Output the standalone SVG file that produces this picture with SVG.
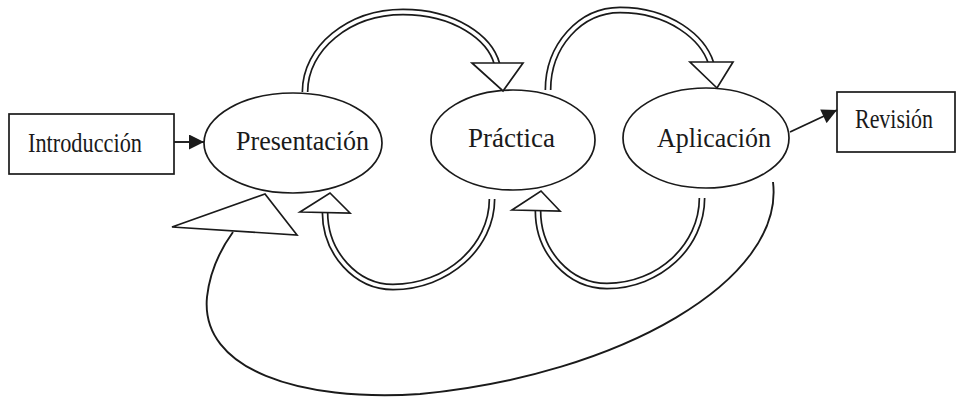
<svg xmlns="http://www.w3.org/2000/svg" width="959" height="399" viewBox="0 0 959 399">
<style>
.box{fill:#fff;stroke:#1a1a1a;stroke-width:1.7}
.node{fill:#fff;stroke:#1a1a1a;stroke-width:1.7}
.lbl{font-family:"Liberation Serif","Times New Roman",serif;font-size:27px;fill:#1a1a1a}
.line{fill:none;stroke:#1a1a1a;stroke-width:1.9}
.dbo{fill:none;stroke:#1a1a1a;stroke-width:7}
.dbi{fill:none;stroke:#fff;stroke-width:3.6}
.hollow{fill:#fff;stroke:#1a1a1a;stroke-width:1.7;stroke-linejoin:miter}
</style>
<defs>
<marker id="solid" viewBox="0 0 10 10" refX="10" refY="5" markerWidth="17" markerHeight="15" markerUnits="userSpaceOnUse" orient="auto">
<path d="M0,0 L10,5 L0,10 Z" fill="#1a1a1a"/>
</marker>
</defs>
<rect width="959" height="399" fill="#fff"/>
<g id="introduccion">
<rect class="box" x="9" y="114" width="165" height="60"/>
<text class="lbl" x="28" y="152" textLength="114" lengthAdjust="spacingAndGlyphs">Introducción</text>
</g>
<g id="presentacion">
<ellipse class="node" cx="293" cy="143" rx="89" ry="50"/>
<text class="lbl" x="236" y="150" textLength="133" lengthAdjust="spacingAndGlyphs">Presentación</text>
</g>
<g id="practica">
<ellipse class="node" cx="513" cy="140" rx="82" ry="50"/>
<text class="lbl" x="468" y="147" textLength="87" lengthAdjust="spacingAndGlyphs">Práctica</text>
</g>
<g id="aplicacion">
<ellipse class="node" cx="706" cy="138" rx="83" ry="50"/>
<text class="lbl" x="657" y="147" textLength="114" lengthAdjust="spacingAndGlyphs">Aplicación</text>
</g>
<g id="revision">
<rect class="box" x="837" y="92" width="118" height="60"/>
<text class="lbl" x="855" y="128" textLength="78" lengthAdjust="spacingAndGlyphs">Revisión</text>
</g>
<g id="connectors">
<line class="line" x1="174" y1="142" x2="204" y2="142" marker-end="url(#solid)"/>
<line class="line" x1="790" y1="132" x2="837" y2="110" marker-end="url(#solid)"/>
<path class="dbo" d="M305 92 C305 48 349 12 403 12 C455 12 490 38 497 64"/>
<path class="dbi" d="M305 92 C305 48 349 12 403 12 C455 12 490 38 497 64"/>
<polygon class="hollow" points="472,63 523,63 503,91"/>
<path class="dbo" d="M548 90 C548 46 580 10 620 10 C670 10 703 38 711 63"/>
<path class="dbi" d="M548 90 C548 46 580 10 620 10 C670 10 703 38 711 63"/>
<polygon class="hollow" points="690,62 733,62 717,88"/>
<path class="dbo" d="M492 199 C492 247 447 287 393 287 C356 287 325 253 325 212"/>
<path class="dbi" d="M492 199 C492 247 447 287 393 287 C356 287 325 253 325 212"/>
<polygon class="hollow" points="300,212 350,213 330,193"/>
<path class="dbo" d="M702 198 C702 246 659 286 607 286 C569 286 538 252 538 211"/>
<path class="dbi" d="M702 198 C702 246 659 286 607 286 C569 286 538 252 538 211"/>
<polygon class="hollow" points="512,210 560,211 541,191"/>
<path class="line" d="M773 182 C785 280 620 375 420 394 C300 402 200 370 207 297 C210 270 220 250 233 232"/>
<polygon class="hollow" points="172,227 265,194 297,235"/>
</g>
</svg>
